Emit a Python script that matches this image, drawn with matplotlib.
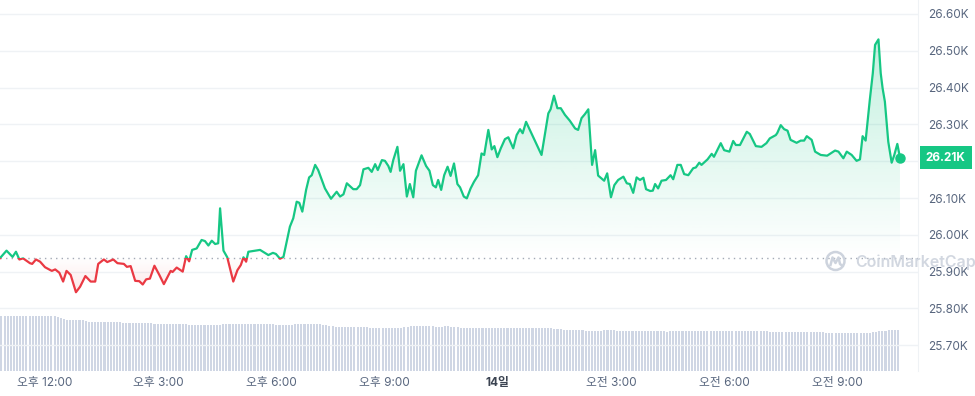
import numpy as np
import matplotlib
matplotlib.use("Agg")
import matplotlib.pyplot as plt
import matplotlib.transforms as mtransforms
from matplotlib.patches import Rectangle, Circle
from matplotlib.path import Path
from matplotlib.colors import to_rgb

plt.rcParams['font.family'] = ['Inter', 'Noto Sans CJK KR', 'DejaVu Sans']

# time in hours from 13th 00:00 (24 = midnight of the 14th), price in thousand USD
hours = [10.81, 10.98, 11.14, 11.23, 11.32, 11.42, 11.60, 11.66, 11.76, 11.87,
         12.00, 12.18, 12.27, 12.38, 12.48, 12.57, 12.68, 12.82, 12.93, 13.07,
         13.21, 13.33, 13.41, 13.56, 13.65, 13.81, 13.92, 14.09, 14.17, 14.27,
         14.39, 14.50, 14.59, 14.68, 14.78, 14.90, 15.03, 15.15, 15.33, 15.38,
         15.49, 15.65, 15.74, 15.82, 15.90, 16.02, 16.15, 16.24, 16.33, 16.42,
         16.51, 16.59, 16.64, 16.73, 16.83, 16.99, 17.10, 17.19, 17.26, 17.33,
         17.39, 17.70, 17.92, 18.04, 18.12, 18.23, 18.32, 18.49, 18.58, 18.67,
         18.74, 18.82, 18.92, 19.00, 19.07, 19.16, 19.24, 19.42, 19.58, 19.73,
         19.82, 19.91, 20.00, 20.17, 20.26, 20.35, 20.44, 20.57, 20.66, 20.75,
         20.82, 20.93, 21.01, 21.10, 21.16, 21.23, 21.34, 21.41, 21.50, 21.59,
         21.67, 21.76, 21.83, 21.98, 22.10, 22.19, 22.28, 22.36, 22.42, 22.50,
         22.58, 22.67, 22.75, 22.84, 22.93, 23.00, 23.10, 23.18, 23.28, 23.37,
         23.48, 23.57, 23.64, 23.75, 23.84, 23.91, 23.99, 24.08, 24.19, 24.28,
         24.41, 24.50, 24.59, 24.66, 24.75, 24.85, 25.16, 25.34, 25.40, 25.49,
         25.58, 25.67, 25.78, 25.91, 26.05, 26.13, 26.22, 26.31, 26.40, 26.50,
         26.58, 26.66, 26.82, 26.90, 27.00, 27.09, 27.19, 27.33, 27.42, 27.50,
         27.59, 27.68, 27.77, 27.86, 27.93, 28.04, 28.11, 28.17, 28.25, 28.34,
         28.46, 28.58, 28.65, 28.76, 28.85, 28.94, 29.05, 29.18, 29.25, 29.34,
         29.40, 29.56, 29.67, 29.73, 29.91, 30.00, 30.14, 30.24, 30.31, 30.42,
         30.60, 30.68, 30.84, 30.99, 31.12, 31.21, 31.37, 31.41, 31.50, 31.59,
         31.68, 31.76, 31.92, 32.03, 32.12, 32.19, 32.32, 32.41, 32.56, 32.73,
         32.94, 33.03, 33.16, 33.25, 33.38, 33.51, 33.60, 33.67, 33.75, 33.86,
         33.94, 34.00, 34.09, 34.15, 34.20, 34.26, 34.35, 34.44, 34.51, 34.59,
         34.66]

price = [25.937, 25.957, 25.940, 25.954, 25.933, 25.936, 25.923, 25.921, 25.933, 25.927,
         25.912, 25.902, 25.906, 25.897, 25.873, 25.902, 25.891, 25.844, 25.859, 25.888,
         25.873, 25.873, 25.921, 25.933, 25.926, 25.933, 25.923, 25.921, 25.913, 25.915,
         25.875, 25.874, 25.865, 25.879, 25.881, 25.916, 25.891, 25.866, 25.902, 25.899,
         25.911, 25.900, 25.942, 25.928, 25.959, 25.963, 25.986, 25.983, 25.971, 25.984,
         25.975, 25.977, 26.072, 25.957, 25.939, 25.873, 25.904, 25.918, 25.939, 25.927,
         25.954, 25.959, 25.945, 25.951, 25.948, 25.935, 25.940, 26.022, 26.045, 26.090,
         26.087, 26.063, 26.122, 26.156, 26.162, 26.190, 26.176, 26.126, 26.098, 26.117,
         26.104, 26.110, 26.140, 26.124, 26.124, 26.135, 26.178, 26.182, 26.171, 26.192,
         26.176, 26.203, 26.201, 26.187, 26.171, 26.203, 26.239, 26.174, 26.192, 26.104,
         26.138, 26.102, 26.174, 26.216, 26.187, 26.174, 26.135, 26.129, 26.149, 26.122,
         26.162, 26.185, 26.160, 26.194, 26.138, 26.129, 26.104, 26.099, 26.126, 26.144,
         26.162, 26.221, 26.217, 26.285, 26.232, 26.241, 26.211, 26.235, 26.260, 26.265,
         26.235, 26.271, 26.287, 26.276, 26.307, 26.285, 26.217, 26.330, 26.341, 26.378,
         26.344, 26.344, 26.326, 26.310, 26.289, 26.285, 26.317, 26.328, 26.341, 26.190,
         26.230, 26.161, 26.147, 26.167, 26.102, 26.135, 26.149, 26.158, 26.140, 26.138,
         26.114, 26.156, 26.149, 26.155, 26.124, 26.119, 26.120, 26.138, 26.126, 26.147,
         26.149, 26.162, 26.151, 26.190, 26.190, 26.165, 26.162, 26.181, 26.183, 26.196,
         26.190, 26.205, 26.220, 26.212, 26.249, 26.230, 26.226, 26.255, 26.244, 26.244,
         26.280, 26.274, 26.241, 26.239, 26.249, 26.262, 26.271, 26.277, 26.298, 26.287,
         26.283, 26.258, 26.250, 26.256, 26.256, 26.268, 26.258, 26.226, 26.217, 26.215,
         26.229, 26.226, 26.208, 26.226, 26.217, 26.201, 26.205, 26.268, 26.256, 26.366,
         26.439, 26.516, 26.531, 26.439, 26.398, 26.362, 26.253, 26.196, 26.217, 26.247,
         26.210]

# 5-minute volume bars (relative units), as (value, number of bars) runs
vol_runs = [(55, 18), (54, 1), (52.7, 1), (51.7, 1), (51, 6), (50, 1), (49.3, 11),
            (48.3, 10), (47.3, 11), (46.3, 11), (47.3, 16), (46.7, 1), (46.3, 6),
            (47.3, 9), (46, 2), (45, 2), (44, 8), (44.3, 3), (43, 11), (44, 2),
            (45, 8), (44, 3), (45, 2), (44, 3), (43, 30), (42, 3), (41, 7), (40, 6),
            (41, 4), (40, 16), (39, 1), (40, 32), (39, 18), (38, 15), (39, 2),
            (40, 3), (41, 4)]
volume = [v for v, n in vol_runs for _ in range(n)]

xticks = [12, 15, 18, 21, 24, 27, 30, 33]
xlabels = ['오후 12:00', '오후 3:00', '오후 6:00', '오후 9:00', '14일',
           '오전 3:00', '오전 6:00', '오전 9:00']
yticks = [25.7, 25.8, 25.9, 26.0, 26.1, 26.2, 26.3, 26.4, 26.5, 26.6]

green = '#16c784'
red = '#ea3943'
grey = '#58667e'
base = price[0]

fig = plt.figure(figsize=(9.75, 3.96), dpi=100)
pos = [0, 25 / 396, 918 / 975, 371 / 396]
ax = fig.add_axes(pos)
axv = ax.twinx()
axv.set_zorder(ax.get_zorder() - 1)
ax.patch.set_visible(False)
axv.patch.set_facecolor('white')

x0, x1 = 10.807, 35.138
y0, y1 = 25.630, 26.638

# volume
bar_t = [hours[0] + 0.035 + i * 0.0828 for i in range(len(volume))]
axv.bar(bar_t, volume, width=0.055, color='#cfd6e4', linewidth=0)
axv.set_ylim(0, max(volume) * 371 / 55)
axv.set_yticks([])
for s in axv.spines.values():
    s.set_visible(False)

# grid
for v in yticks:
    ax.axhline(v, color='#eff2f5', lw=1, zorder=0)


def gradient_fill(x, y, where, color, lo, hi, a_lo, a_hi):
    poly = ax.fill_between(x, y, base, where=where, interpolate=True,
                           facecolor='none', lw=0)
    path = Path.make_compound_path(*poly.get_paths())
    img = np.zeros((256, 1, 4))
    img[..., :3] = to_rgb(color)
    img[..., 3] = np.linspace(a_lo, a_hi, 256)[:, None]
    im = ax.imshow(img, extent=[x0, x1, lo, hi], origin='lower',
                   aspect='auto', zorder=1, interpolation='bilinear')
    im.set_clip_path(path, ax.transData)


p = np.array(price)
gradient_fill(hours, price, p >= base, green, base, max(price), 0.0, 0.26)
gradient_fill(hours, price, p <= base, red, min(price), base, 0.12, 0.0)

# price line, coloured above / below the opening price
lg, = ax.plot(hours, price, color=green, lw=1.6, zorder=3, solid_joinstyle='round')
lg.set_clip_path(Rectangle((x0, base), x1 - x0, 5, transform=ax.transData))
lr, = ax.plot(hours, price, color=red, lw=1.6, zorder=3, solid_joinstyle='round')
lr.set_clip_path(Rectangle((x0, base - 5), x1 - x0, 5, transform=ax.transData))

ax.axhline(base, color='#a3a9b5', lw=1, ls=(0, (1, 3)), zorder=2)
ax.plot(hours[-1], price[-1], 'o', color=green, ms=6.5, zorder=4)

ax.set_xlim(x0, x1)
ax.set_ylim(y0, y1)

ax.set_xticks(xticks)
ax.set_xticklabels(xlabels)
ax.tick_params(axis='x', length=0, pad=4, labelsize=8.5, labelcolor=grey)
for t in ax.get_xticklabels():
    if t.get_text() == '14일':
        t.set_fontweight('bold')
        t.set_color('#3c4452')

ax.yaxis.tick_right()
ax.set_yticks(yticks)
ax.set_yticklabels(['' if abs(v - round(price[-1], 1)) < 1e-6 else f'{v:.2f}K'
                    for v in yticks])
ax.tick_params(axis='y', length=0, pad=7.5, labelsize=8.5, labelcolor=grey)

for k, s in ax.spines.items():
    s.set_visible(k == 'right')
ax.spines['right'].set_color('#eff2f5')

# last price tag
trans = mtransforms.blended_transform_factory(ax.transAxes, ax.transData)
ax.text(1.0085, price[-1], f'{price[-1]:.2f}K', transform=trans, ha='left',
        va='center', color='white', fontsize=8.5, fontweight='bold', zorder=6,
        bbox=dict(boxstyle='square,pad=0.5', fc=green, ec='none'), clip_on=False)

# watermark (sits over the 25.90K label, as in the original)
wm = '#cdd3dd'
fig.text(855 / 975, 1 - 262 / 396, 'CoinMarketCap', color=wm, fontsize=11.5,
         fontweight='semibold', ha='left', va='center', alpha=0.9)
cx, cy = 8.355, (396 - 261) / 100
fig.patches.append(Circle((cx, cy), 0.09, transform=fig.dpi_scale_trans,
                          fill=False, ec=wm, lw=1.8))
mx = [cx + d for d in (-0.05, -0.03, 0.0, 0.03, 0.045, 0.065)]
my = [cy + d for d in (-0.04, 0.035, -0.02, 0.035, -0.03, -0.045)]
fig.lines.append(plt.Line2D(mx, my, transform=fig.dpi_scale_trans, color=wm, lw=1.8))

fig.savefig('out.png', dpi=100)
